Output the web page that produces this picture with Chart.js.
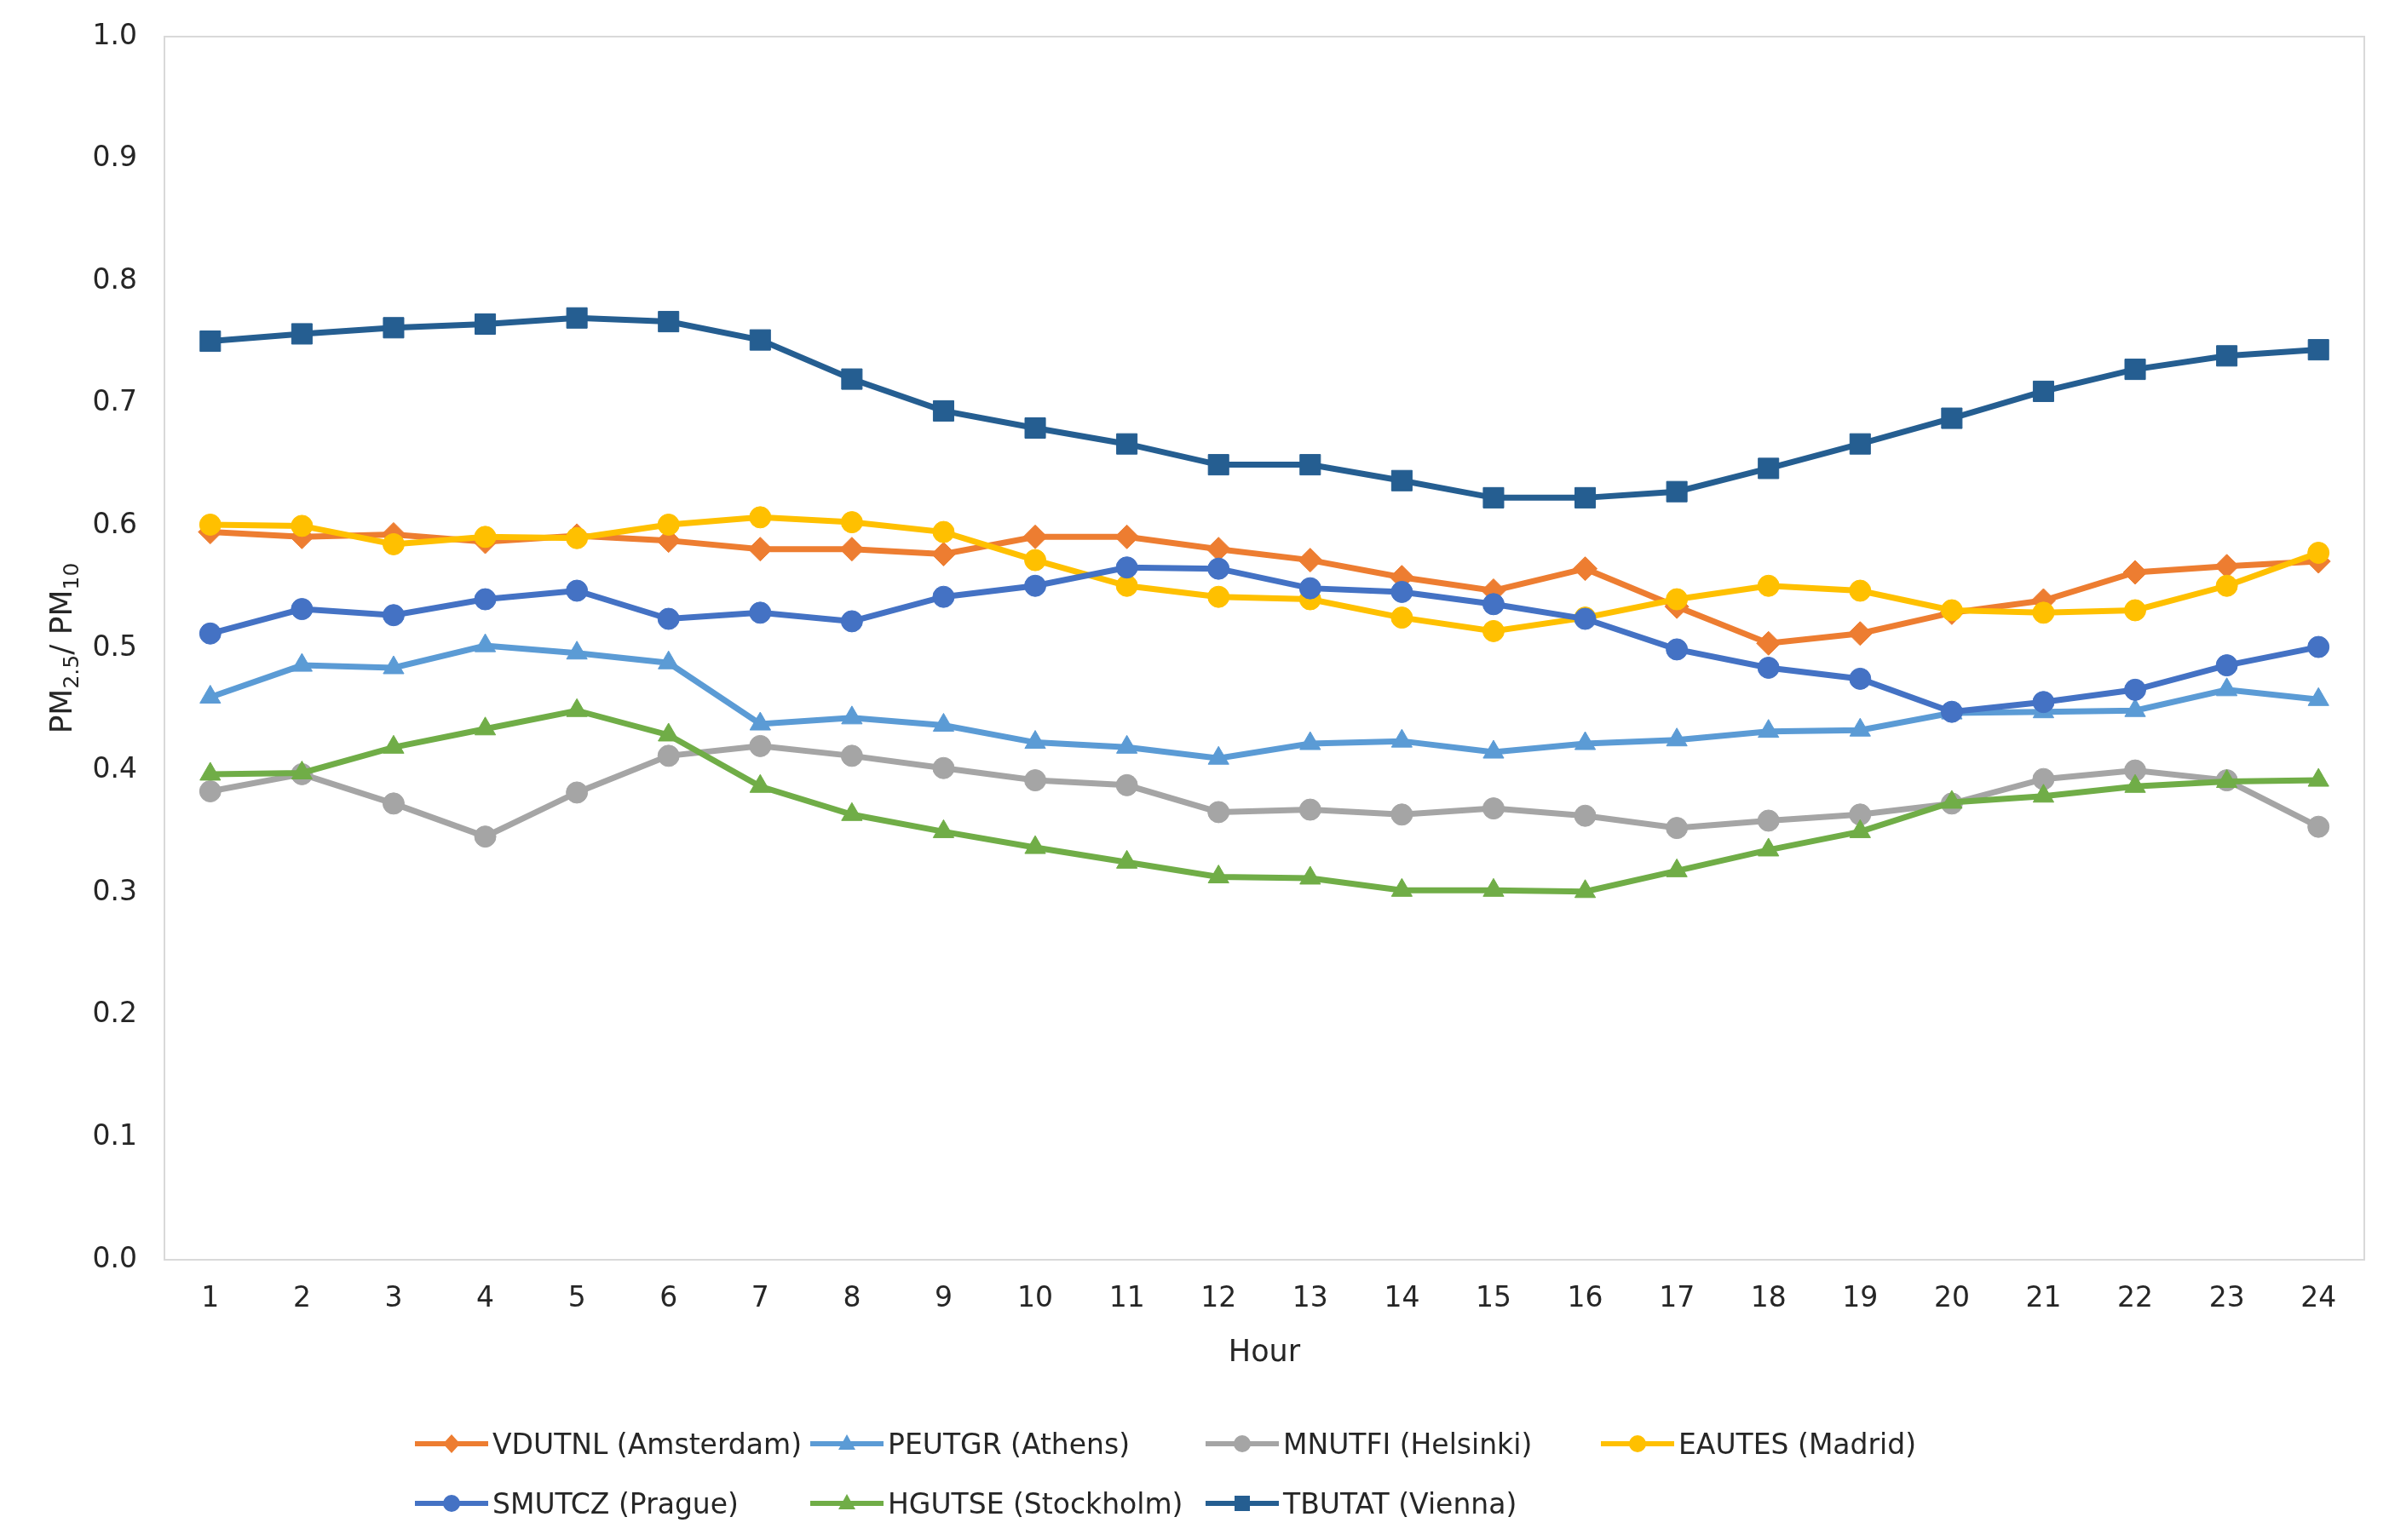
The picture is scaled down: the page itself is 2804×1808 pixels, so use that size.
<!DOCTYPE html>
<html><head><meta charset="utf-8">
<script src="https://cdn.jsdelivr.net/npm/chart.js@4.4.1/dist/chart.umd.min.js"></script>
<style>
html,body{margin:0;padding:0;background:#fff;}
#wrap{position:relative;width:2804px;height:1808px;overflow:hidden;}
#c{position:absolute;left:0;top:0;}
#legend{position:absolute;left:487px;top:1660px;width:2000px;font-family:'DejaVu Sans',sans-serif;font-size:33px;color:#262626;}
.row{display:flex;height:70px;align-items:center;}
.item{display:flex;align-items:center;width:464px;white-space:nowrap;}
.item svg{flex:none;margin-right:5px;}
</style></head>
<body><div id="wrap"><canvas id="c" width="2804" height="1808"></canvas><div id="legend"></div></div>
<script>
const hours = ['1','2','3','4','5','6','7','8','9','10','11','12','13','14','15','16','17','18','19','20','21','22','23','24'];
const yTickLabels = ['0.0','0.1','0.2','0.3','0.4','0.5','0.6','0.7','0.8','0.9','1.0'];
const xTitle = 'Hour';
// y title pieces: [text, isSubscript]
const yTitleParts = [['PM',false],['2.5',true],['/ PM',false],['10',true]];

const seriesNames = ['VDUTNL (Amsterdam)','PEUTGR (Athens)','MNUTFI (Helsinki)','EAUTES (Madrid)','SMUTCZ (Prague)','HGUTSE (Stockholm)','TBUTAT (Vienna)'];
const amsterdam = [0.595,0.591,0.593,0.587,0.592,0.588,0.581,0.581,0.577,0.591,0.591,0.581,0.572,0.558,0.547,0.565,0.534,0.504,0.512,0.529,0.539,0.562,0.567,0.571];
const athens    = [0.460,0.486,0.484,0.502,0.496,0.488,0.438,0.443,0.437,0.423,0.419,0.410,0.422,0.424,0.415,0.422,0.425,0.432,0.433,0.447,0.448,0.449,0.466,0.458];
const helsinki  = [0.383,0.397,0.373,0.346,0.382,0.412,0.420,0.412,0.402,0.392,0.388,0.366,0.368,0.364,0.369,0.363,0.353,0.359,0.364,0.373,0.393,0.400,0.392,0.354];
const madrid    = [0.601,0.600,0.585,0.591,0.590,0.601,0.607,0.603,0.595,0.572,0.551,0.542,0.540,0.525,0.514,0.525,0.540,0.551,0.547,0.531,0.529,0.531,0.551,0.578];
const prague    = [0.512,0.532,0.527,0.540,0.547,0.524,0.529,0.522,0.542,0.551,0.566,0.565,0.549,0.546,0.536,0.524,0.499,0.484,0.475,0.448,0.456,0.466,0.486,0.501];
const stockholm = [0.397,0.398,0.419,0.434,0.449,0.429,0.387,0.364,0.350,0.337,0.325,0.313,0.312,0.302,0.302,0.301,0.318,0.335,0.350,0.374,0.379,0.387,0.391,0.392];
const vienna    = [0.751,0.757,0.762,0.765,0.770,0.767,0.752,0.720,0.694,0.680,0.667,0.650,0.650,0.637,0.623,0.623,0.628,0.647,0.667,0.688,0.710,0.728,0.739,0.744];

const seriesValues = [amsterdam, athens, helsinki, madrid, prague, stockholm, vienna];
const colors = ['#ED7D31','#5B9BD5','#A5A5A5','#FFC000','#4472C4','#70AD47','#255E91'];
const markers = ['rectRot','triangle','circle','circle','circle','triangle','rect'];
const markerRadius = {rectRot:14, triangle:14, circle:12.5, rect:17};

const FAMILY = "'DejaVu Sans', sans-serif";
const FONT = {family:FAMILY, size:33};
const TEXT = '#262626';

const frame = {
  id:'frame',
  beforeDatasetsDraw(chart){
    const a = chart.chartArea, c = chart.ctx;
    c.save(); c.strokeStyle = '#D9D9D9'; c.lineWidth = 2;
    c.strokeRect(a.left, a.top, a.right - a.left, a.bottom - a.top);
    c.restore();
  }
};

// y-axis title with real subscripts
const yTitlePlugin = {
  id:'yTitle',
  afterDraw(chart){
    const a = chart.chartArea, c = chart.ctx;
    const big = 36, small = 25;
    c.save();
    c.fillStyle = TEXT; c.textBaseline = 'alphabetic';
    let total = 0;
    yTitleParts.forEach(([t,s]) => { c.font = (s?small:big) + 'px ' + FAMILY; total += c.measureText(t).width; });
    c.translate(84, (a.top + a.bottom) / 2);
    c.rotate(-Math.PI/2);
    let x = -total/2;
    yTitleParts.forEach(([t,s]) => {
      c.font = (s?small:big) + 'px ' + FAMILY;
      c.fillText(t, x, s ? 8 : 0);
      x += c.measureText(t).width;
    });
    c.restore();
  }
};

const N = seriesNames.length;
const datasets = seriesNames.map((name, i) => ({
  label: name,
  data: seriesValues[i],
  borderColor: colors[i],
  backgroundColor: colors[i],
  pointBackgroundColor: colors[i],
  pointBorderColor: colors[i],
  pointBorderWidth: 1,
  borderWidth: 7,
  pointStyle: markers[i],
  pointRadius: markerRadius[markers[i]],
  tension: 0,
  fill: false,
  clip: false,
  order: N - i
}));

new Chart(document.getElementById('c'), {
  type: 'line',
  data: { labels: hours, datasets },
  options: {
    responsive: false,
    devicePixelRatio: 1,
    animation: false,
    layout: { padding: { top: 43, right: 29, bottom: 168, left: 0 } },
    plugins: { legend: { display: false }, tooltip: { enabled: false } },
    scales: {
      x: {
        offset: true,
        grid: { display: false, drawTicks: false, offset: true },
        border: { display: false },
        ticks: { padding: 27, font: FONT, color: TEXT, maxRotation: 0 },
        title: { display: true, text: xTitle, font: {family:FAMILY, size:35}, color: TEXT, padding: { top: 0, bottom: 30 } },
        afterFit(s) { s.height = 161; s.paddingLeft = 0; s.paddingRight = 0; }
      },
      y: {
        min: 0, max: 1,
        grid: { display: false, drawTicks: false },
        border: { display: false },
        ticks: { stepSize: 0.1, padding: 32, font: FONT, color: TEXT, callback: (v, i) => yTickLabels[i] },
        title: { display: false },
        afterFit(s) { s.width = 193; s.paddingTop = 0; s.paddingBottom = 0; }
      }
    }
  },
  plugins: [frame, yTitlePlugin]
});

// legend laid out in Excel-style columns
function markerSvg(style, color) {
  const cx = 43, cy = 20;
  let m = '';
  if (style === 'circle') m = `<circle cx="${cx}" cy="${cy}" r="10" fill="${color}"/>`;
  else if (style === 'rect') m = `<rect x="${cx-9}" y="${cy-9}" width="18" height="18" fill="${color}"/>`;
  else if (style === 'rectRot') m = `<polygon points="${cx},${cy-11} ${cx+10},${cy} ${cx},${cy+11} ${cx-10},${cy}" fill="${color}"/>`;
  else m = `<polygon points="${cx},${cy-11} ${cx+10},${cy+7} ${cx-10},${cy+7}" fill="${color}"/>`;
  return `<svg width="86" height="40"><line x1="0" y1="${cy}" x2="86" y2="${cy}" stroke="${color}" stroke-width="6"/>${m}</svg>`;
}
const legendRows = [[0,1,2,3],[4,5,6]];
const leg = document.getElementById('legend');
legendRows.forEach(r => {
  const row = document.createElement('div'); row.className = 'row';
  r.forEach(i => {
    const it = document.createElement('div'); it.className = 'item';
    it.innerHTML = markerSvg(markers[i], colors[i]) + '<span>' + seriesNames[i] + '</span>';
    row.appendChild(it);
  });
  leg.appendChild(row);
});
</script>
</body></html>
